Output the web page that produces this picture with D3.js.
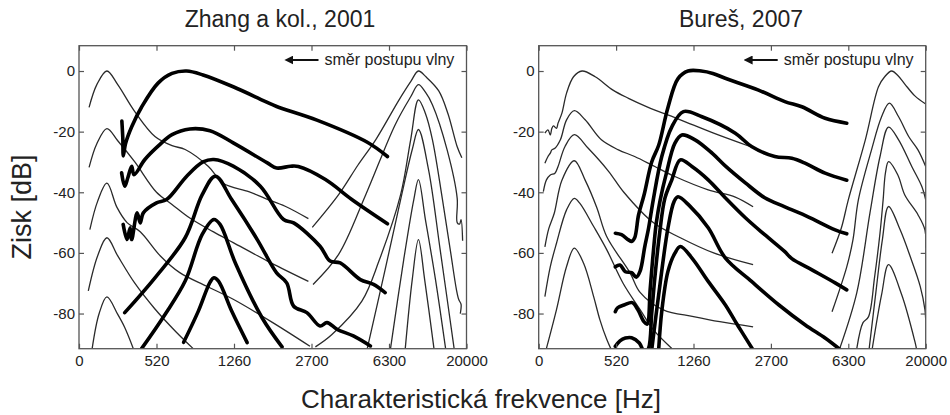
<!DOCTYPE html>
<html>
<head>
<meta charset="utf-8">
<script src="https://cdn.jsdelivr.net/npm/d3@7"></script>
<style>
body { margin: 0; background: #fff; }
svg text { font-family: "Liberation Sans", Arial, sans-serif; fill: #222; }
</style>
</head>
<body>
<script>
// tick labels
const freq_labels = ['0', '520', '1260', '2700', '6300', '20000']
const db_ticks = [0, -20, -40, -60, -80]

// x = place along the cochlea (0..5, one unit per tick), y = gain in dB
// Zhang a kol., 2001 - thin curves (low CF group, then high CF group)
const zhang_thin = [
    [[0.13,-12],[0.23,-4.5],[0.36,0],[0.5,-4.5],[0.72,-13.4],[0.98,-21.6],[1.2,-24.6],[1.37,-25.9],[1.67,-31.5],[1.86,-37],[2.19,-39.8],[2.4,-42],[2.66,-44.6],[2.96,-48.7]],
    [[0.13,-31.8],[0.23,-24],[0.36,-19],[0.5,-23],[0.72,-30],[1.0,-40],[1.2,-44],[1.43,-48.5],[1.73,-53],[1.99,-56.6],[2.47,-63.2],[2.96,-69.4]],
    [[0.14,-52.3],[0.24,-43],[0.36,-37],[0.49,-45],[0.62,-50],[0.79,-53],[1.05,-61],[1.3,-66.5],[1.65,-71],[1.99,-75.3],[2.5,-83],[2.98,-90.8]],
    [[0.12,-72.5],[0.24,-61],[0.36,-55],[0.5,-61],[0.72,-70],[0.98,-78.5],[1.25,-86],[1.47,-91.5]],
    [[0.17,-91.5],[0.26,-80],[0.36,-74.5],[0.5,-80.3],[0.59,-84.6],[0.7,-91.5]],
    [[3.01,-51.6],[3.35,-40.8],[3.6,-31],[3.83,-22.6],[4.13,-9.5],[4.28,-3.5],[4.38,0],[4.48,-2],[4.64,-6.5],[4.76,-14],[4.88,-25],[4.94,-28.6]],
    [[3.02,-70.4],[3.35,-60.5],[3.7,-40.8],[4.08,-17.7],[4.28,-8.5],[4.38,-4.5],[4.47,-7],[4.56,-11.1],[4.75,-26],[4.88,-42],[4.88,-50],[4.91,-50.5],[4.93,-49],[4.95,-56]],
    [[3.05,-91],[3.26,-87],[3.65,-75.9],[3.87,-62.7],[4.15,-40.8],[4.28,-22.6],[4.38,-9.5],[4.47,-14],[4.56,-22.6],[4.69,-42.4],[4.79,-58.9],[4.87,-72.1],[4.9,-75.4],[4.93,-77],[4.92,-80]],
    [[3.72,-91.5],[3.95,-65.5],[4.15,-42.4],[4.3,-25.9],[4.38,-19.3],[4.51,-32.5],[4.66,-58.9],[4.84,-91.5]],
    [[4.02,-91.5],[4.19,-62.2],[4.32,-42.4],[4.38,-35.8],[4.47,-49],[4.6,-68.8],[4.73,-91.5]],
    [[4.21,-91.5],[4.3,-68.8],[4.38,-55.6],[4.46,-68.8],[4.58,-91.5]],
]
// Zhang a kol., 2001 - thick curves
const zhang_thick = [
    [[0.553,-16.5],[0.565,-22],[0.572,-28],[0.6,-24],[0.68,-18.4],[0.81,-11.8],[1.02,-4],[1.2,-0.8],[1.39,0],[1.6,-1.3],[1.99,-5.2],[2.4,-10],[2.55,-11.7],[3.07,-16.2],[3.72,-23.5],[3.98,-28.2]],
    [[0.55,-33.6],[0.59,-38],[0.63,-35.2],[0.68,-31.4],[0.71,-34.2],[0.85,-29.2],[1.02,-24.8],[1.2,-21],[1.43,-19.1],[1.69,-19.7],[1.99,-23.7],[2.43,-30.3],[2.55,-32],[2.73,-31.4],[2.83,-31.5],[3.18,-35.8],[3.52,-42.4],[3.98,-50.4]],
    [[0.57,-50.6],[0.62,-55.6],[0.66,-51.7],[0.68,-55.6],[0.75,-46.8],[0.79,-50.1],[0.83,-46.8],[1.0,-43.5],[1.13,-42.4],[1.39,-34.7],[1.6,-30],[1.74,-29.2],[1.99,-31.4],[2.34,-38],[2.64,-49],[2.77,-50.1],[3.11,-57.8],[3.24,-62.7],[3.37,-63.3],[3.63,-68.8],[3.8,-70.4],[3.95,-73.1]],
    [[0.59,-79.7],[0.98,-68.2],[1.37,-55],[1.59,-40.8],[1.76,-34.7],[1.97,-42.4],[2.3,-55.6],[2.55,-66.6],[2.68,-69.9],[2.77,-77.6],[2.94,-79.7],[3.11,-84.1],[3.2,-83],[3.33,-85.2],[3.54,-87.4],[3.76,-90.7]],
    [[0.81,-91.5],[1.11,-80.3],[1.37,-69.3],[1.59,-53.9],[1.74,-49],[1.82,-50.6],[2.02,-63.5],[2.36,-81.3],[2.62,-91]],
    [[1.35,-89.5],[1.54,-79.2],[1.69,-69.7],[1.74,-68.2],[1.8,-69.3],[1.97,-79.2],[2.17,-89.6]],
]
// Bureš, 2007 - thin curves
const bures_thin = [
    [[0.08,-20.5],[0.12,-19.4],[0.15,-21.1],[0.17,-18.9],[0.19,-18.1],[0.23,-18.9],[0.25,-17.2],[0.3,-13.9],[0.36,-7.3],[0.45,-1.9],[0.56,0],[0.73,-1.9],[0.96,-6.3],[1.16,-9],[1.4,-11.8],[1.83,-16.1],[2.26,-20.5],[2.73,-24.9]],
    [[0.08,-30.4],[0.12,-28.2],[0.15,-27.1],[0.17,-26],[0.21,-25.5],[0.28,-22.7],[0.36,-16.1],[0.46,-13.1],[0.6,-16.1],[0.81,-22.7],[1.03,-26],[1.24,-28.2],[1.5,-31.5],[1.76,-34.8],[2.19,-39.2],[2.54,-41.6],[2.77,-44.8]],
    [[0.06,-39.8],[0.1,-35.9],[0.15,-34.3],[0.21,-33.7],[0.25,-31.5],[0.34,-24.9],[0.46,-21],[0.64,-25.5],[0.9,-33],[1.1,-40],[1.48,-50],[1.83,-55],[2.26,-60],[2.77,-63.9]],
    [[0.08,-58],[0.13,-52],[0.2,-47],[0.3,-36],[0.46,-29.6],[0.6,-36],[0.75,-45],[0.88,-54.7],[1.18,-66.6],[1.31,-73],[1.61,-78.8],[2.0,-81],[2.34,-82.7],[2.77,-84.4]],
    [[0.08,-74.4],[0.15,-64.5],[0.23,-56.8],[0.36,-45.8],[0.46,-42],[0.53,-43.6],[0.71,-51.3],[0.88,-59],[1.09,-70],[1.31,-78.7],[1.48,-85.3],[1.72,-91.5]],
    [[0.1,-91.5],[0.23,-78.7],[0.36,-64.5],[0.46,-58.4],[0.58,-63.4],[0.71,-74.4],[0.79,-82],[0.88,-88.6],[0.93,-91.5]],
    [[3.79,-60.1],[3.91,-51.8],[4.0,-42.5],[4.22,-22.7],[4.39,-5.2],[4.47,-1.9],[4.56,0],[4.64,-1.5],[4.73,-4.3],[4.86,-8.2],[5.0,-10.9]],
    [[3.79,-79.4],[3.98,-64.6],[4.06,-55.7],[4.13,-42.5],[4.3,-26],[4.43,-15.1],[4.53,-10.6],[4.65,-15.1],[4.78,-21.6],[4.9,-26],[5.0,-31.5]],
    [[3.89,-91.5],[4.11,-73.1],[4.28,-46.8],[4.41,-28.2],[4.52,-18.5],[4.65,-22.7],[4.82,-31.5],[4.95,-38.1],[5.0,-42.5]],
    [[4.11,-91.5],[4.19,-83],[4.26,-81.1],[4.34,-67.9],[4.41,-53.4],[4.45,-42.5],[4.48,-33.6],[4.52,-29.9],[4.64,-34.3],[4.73,-40.9],[4.9,-47.4],[4.99,-52.4],[5.0,-58.3]],
    [[4.27,-91.5],[4.36,-72.2],[4.44,-55.7],[4.52,-44.7],[4.67,-52.4],[4.8,-61.2],[4.93,-71.1],[4.99,-78.7],[5.0,-82]],
    [[4.31,-91.5],[4.43,-73.8],[4.52,-63.9],[4.69,-73.8],[4.86,-89.2],[4.88,-91.5]],
]
// Bureš, 2007 - thick curves
const bures_thick = [
    [[0.99,-53.5],[1.07,-54],[1.16,-55.7],[1.2,-56.2],[1.24,-55],[1.29,-47.5],[1.36,-41],[1.46,-30],[1.55,-24.5],[1.67,-12],[1.8,-2.5],[1.93,0],[2.1,0],[2.25,-0.8],[2.41,-2.4],[2.84,-6.3],[3.18,-10.1],[3.4,-11.8],[3.7,-15.6],[3.98,-17.2]],
    [[0.99,-64.6],[1.05,-64],[1.12,-66.2],[1.2,-66.5],[1.26,-68],[1.31,-66],[1.37,-58],[1.42,-51.8],[1.48,-42.5],[1.59,-28.2],[1.72,-18.4],[1.87,-13.4],[2.11,-15.1],[2.54,-20.5],[2.75,-24.9],[3.05,-28.2],[3.27,-28.8],[3.44,-30.4],[3.7,-33.7],[3.98,-36]],
    [[0.99,-79.4],[1.02,-78.1],[1.11,-77.1],[1.21,-76.4],[1.28,-78.7],[1.36,-82.7],[1.4,-83.5],[1.44,-72],[1.47,-62.8],[1.52,-50],[1.57,-42.5],[1.65,-33.7],[1.76,-23.8],[1.85,-21.1],[2.02,-22.7],[2.24,-27.1],[2.41,-31.3],[2.67,-36.9],[2.92,-41.8],[3.18,-44.8],[3.48,-48.1],[3.83,-52.4],[3.98,-53.7]],
    [[0.99,-90.8],[1.05,-89],[1.12,-88.1],[1.2,-88],[1.3,-89.7],[1.37,-93],[1.42,-91.4],[1.46,-80],[1.5,-68.3],[1.56,-54],[1.63,-42],[1.72,-35.9],[1.83,-29.3],[1.98,-31.5],[2.19,-35.9],[2.41,-41.8],[2.67,-48.4],[2.92,-54],[3.18,-59.6],[3.27,-61.9],[3.53,-65.6],[3.83,-69.9],[3.98,-72.2]],
    [[1.46,-92],[1.55,-73.8],[1.67,-51.8],[1.75,-43],[1.8,-41.5],[1.95,-44.5],[2.19,-51.7],[2.41,-61.6],[2.75,-69.4],[3.1,-77.1],[3.44,-83.7],[3.7,-88.1],[3.9,-92]],
    [[1.55,-92],[1.59,-79.3],[1.67,-66.1],[1.76,-60.1],[1.83,-57.9],[1.98,-61.7],[2.19,-69.4],[2.41,-77.1],[2.54,-82.6],[2.62,-85.9],[2.77,-92]],
]

const svg = d3.select('body').append('svg')
    .attr('width', 950)
    .attr('height', 415)

const y_range = [348.7, 45.7]
const y = d3.scaleLinear().domain([-91.6, 8.35]).range(y_range)

// arrow head
svg.append('defs').append('marker')
    .attr('id', 'arrow_head')
    .attr('viewBox', '0 0 10 10')
    .attr('refX', 1).attr('refY', 5)
    .attr('markerWidth', 4.5).attr('markerHeight', 4.5)
    .attr('orient', 'auto-start-reverse')
    .append('path')
        .attr('d', 'M0,0L10,5L0,10Z')
        .attr('fill', '#111')

function draw_panel(id, left, right, title, title_x, thin, thick) {
    const x = d3.scaleLinear().domain([0, 5]).range([left, right])
    const g = svg.append('g')

    g.append('clipPath').attr('id', 'clip_' + id)
        .append('rect')
            .attr('x', left).attr('y', y_range[1])
            .attr('width', right - left).attr('height', y_range[0] - y_range[1])

    const line = d3.line()
        .x(d => x(d[0]))
        .y(d => y(d[1]))
        .curve(d3.curveCatmullRom.alpha(0.5))

    const curves = g.append('g').attr('clip-path', `url(#clip_${id})`)
    curves.selectAll('.thin')
        .data(thin)
        .enter()
        .append('path')
        .attr('d', line)
        .attr('fill', 'none')
        .attr('stroke', '#2a2a2a')
        .attr('stroke-width', 1.3)
    curves.selectAll('.thick')
        .data(thick)
        .enter()
        .append('path')
        .attr('d', line)
        .attr('fill', 'none')
        .attr('stroke', '#000')
        .attr('stroke-width', 3.6)
        .attr('stroke-linejoin', 'round')
        .attr('stroke-linecap', 'round')

    // axes, ticks pointing inwards
    const x_ticks = d3.range(freq_labels.length)
    const ax_bottom = g.append('g').attr('transform', `translate(0,${y_range[0]})`)
        .call(d3.axisBottom(x).tickValues(x_ticks).tickFormat(i => freq_labels[i]).tickSizeInner(-5).tickSizeOuter(0).tickPadding(7))
    const ax_top = g.append('g').attr('transform', `translate(0,${y_range[1]})`)
        .call(d3.axisTop(x).tickValues(x_ticks).tickFormat('').tickSizeInner(-5).tickSizeOuter(0))
    const ax_left = g.append('g').attr('transform', `translate(${left},0)`)
        .call(d3.axisLeft(y).tickValues(db_ticks).tickSizeInner(-5).tickSizeOuter(0).tickPadding(4))
    const ax_right = g.append('g').attr('transform', `translate(${right},0)`)
        .call(d3.axisRight(y).tickValues(db_ticks).tickFormat('').tickSizeInner(-5).tickSizeOuter(0))
    for (const ax of [ax_bottom, ax_top, ax_left, ax_right]) {
        ax.select('.domain').remove()
        ax.selectAll('line').attr('stroke', '#555').attr('stroke-width', 1.2)
        ax.selectAll('text').style('font-size', '15px').attr('fill', '#222')
    }
    ax_left.selectAll('text').text(d => d < 0 ? '-' + Math.abs(d) : d)

    g.append('rect')
        .attr('x', left).attr('y', y_range[1])
        .attr('width', right - left).attr('height', y_range[0] - y_range[1])
        .attr('fill', 'none')
        .attr('stroke', '#555')
        .attr('stroke-width', 1.3)

    // panel title
    g.append('text')
        .text(title)
        .attr('x', title_x).attr('y', 27)
        .attr('text-anchor', 'middle')
        .style('font-size', '23px')

    // wave direction note
    g.append('line')
        .attr('x1', right - 148).attr('x2', right - 174)
        .attr('y1', 60).attr('y2', 60)
        .attr('stroke', '#111')
        .attr('stroke-width', 2)
        .attr('marker-end', 'url(#arrow_head)')
    g.append('text')
        .text('směr postupu vlny')
        .attr('x', right - 142).attr('y', 65)
        .style('font-size', '16px')
}

draw_panel('zhang', 79, 466.5, 'Zhang a kol., 2001', 280, zhang_thin, zhang_thick)
draw_panel('bures', 538.7, 925.7, 'Bureš, 2007', 741, bures_thin, bures_thick)

// shared axis titles
svg.append('text')
    .text('Zisk [dB]')
    .attr('transform', 'translate(31,207) rotate(-90)')
    .attr('text-anchor', 'middle')
    .style('font-size', '27px')
svg.append('text')
    .text('Charakteristická frekvence [Hz]')
    .attr('x', 481).attr('y', 408)
    .attr('text-anchor', 'middle')
    .style('font-size', '26px')
</script>
</body>
</html>
